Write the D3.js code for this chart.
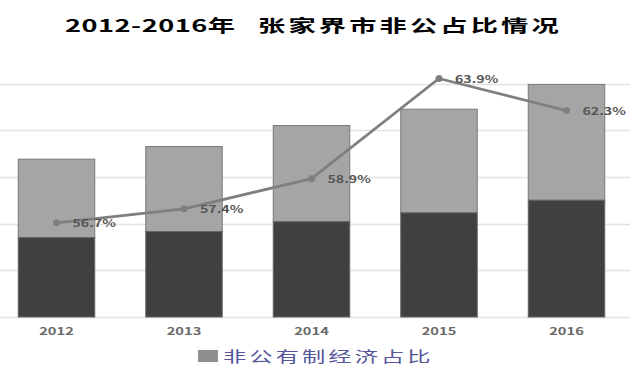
<!DOCTYPE html>
<html><head><meta charset="utf-8">
<script src="https://cdn.jsdelivr.net/npm/d3@7"></script>
<style>
html,body{margin:0;padding:0;background:#fff;}
svg{display:block;}
text{font-family:"Noto Sans CJK SC","Noto Sans",sans-serif;}
</style></head>
<body>
<svg id="chart" width="639" height="379"></svg>
<script>
// ---- data ----
const years = ["2012", "2013", "2014", "2015", "2016"];
const totalValues = [338, 365, 410, 445, 498];      // full bar height (axis units)
const lowerValues = [170, 183, 204, 223, 250];      // dark lower segment
const shareValues = [56.7, 57.4, 58.9, 63.9, 62.3]; // line, percent
const gridTicks = [0, 100, 200, 300, 400, 500];
const titleParts = ["2012-2016年", "张家界市非公占比情况"];
const legendText = "非公有制经济占比";

const svg = d3.select("#chart");
const baseY = 317, topY = 83.5;
const x = d3.scaleBand().domain(years).range([-7.25, 630.25]).paddingInner(0.4).paddingOuter(0.2);
const y = d3.scaleLinear().domain([0, 500]).range([baseY, topY]);
const y2 = d3.scaleLinear().domain([52, 64]).range([baseY, 76.5]);

// gridlines
svg.append("g").selectAll("line").data(gridTicks).join("line")
  .attr("x1", 0).attr("x2", 630)
  .attr("y1", d => Math.round(y(d)) + 0.5).attr("y2", d => Math.round(y(d)) + 0.5)
  .attr("stroke", "#e2e2e2").attr("stroke-width", 1.5);

// bars
const rows = years.map((yr, i) => ({yr, total: totalValues[i], lower: lowerValues[i]}));
const g = svg.append("g");
g.selectAll("rect.upper").data(rows).join("rect").attr("class", "upper")
  .attr("x", d => x(d.yr)).attr("width", x.bandwidth())
  .attr("y", d => y(d.total)).attr("height", d => y(d.lower) - y(d.total))
  .attr("fill", "#a5a5a5").attr("stroke", "#7a7a7a").attr("stroke-width", 1);
g.selectAll("rect.lower").data(rows).join("rect").attr("class", "lower")
  .attr("x", d => x(d.yr)).attr("width", x.bandwidth())
  .attr("y", d => y(d.lower)).attr("height", d => y(0) - y(d.lower))
  .attr("fill", "#404040").attr("stroke", "#666").attr("stroke-width", 1);

// x axis labels
const xAxis = d3.axisBottom(x).tickSize(0).tickPadding(0);
const ax = svg.append("g").attr("transform", `translate(0,${baseY})`).call(xAxis);
ax.select(".domain").remove();
ax.selectAll(".tick text").remove();
ax.selectAll(".tick").append("text")
  .attr("transform", "translate(0,18) scale(1.4,1)")
  .attr("text-anchor", "middle")
  .attr("fill", "#6a6a6a").attr("font-size", 10.5).attr("font-weight", "bold")
  .text(d => d);

// line
const pts = years.map((yr, i) => ({yr, v: shareValues[i]}));
const cx = d => x(d.yr) + x.bandwidth() / 2;
svg.append("path").datum(pts)
  .attr("d", d3.line().x(cx).y(d => y2(d.v)))
  .attr("fill", "none").attr("stroke", "#7f7f7f").attr("stroke-width", 2.8)
  .attr("stroke-linejoin", "round");
svg.append("g").selectAll("circle").data(pts).join("circle")
  .attr("cx", cx).attr("cy", d => y2(d.v)).attr("r", 3.5).attr("fill", "#7f7f7f");
svg.append("g").selectAll("text").data(pts).join("text")
  .attr("transform", d => `translate(${cx(d) + 16},${y2(d.v) + 4.5}) scale(1.35,1)`)
  .attr("fill", "#555").attr("font-size", 10.5).attr("font-weight", "bold")
  .text(d => d.v.toFixed(1) + "%");

// title (two parts)
svg.append("text")
  .attr("transform", "translate(65,32) scale(1.6,1)")
  .attr("font-size", 17).attr("font-weight", "bold").attr("letter-spacing", 0.3)
  .attr("fill", "#000")
  .text(titleParts[0]);
svg.append("text")
  .attr("transform", "translate(258,32) scale(1.6,1)")
  .attr("font-size", 17).attr("font-weight", "bold").attr("letter-spacing", 2)
  .attr("fill", "#000")
  .text(titleParts[1]);

// legend
svg.append("rect").attr("x", 198).attr("y", 350).attr("width", 20).attr("height", 12).attr("fill", "#8e8e8e");
svg.append("text")
  .attr("transform", "translate(223,362) scale(1.55,1)")
  .attr("font-size", 15).attr("letter-spacing", 2).attr("fill", "#55559a")
  .text(legendText);
</script>
</body></html>
